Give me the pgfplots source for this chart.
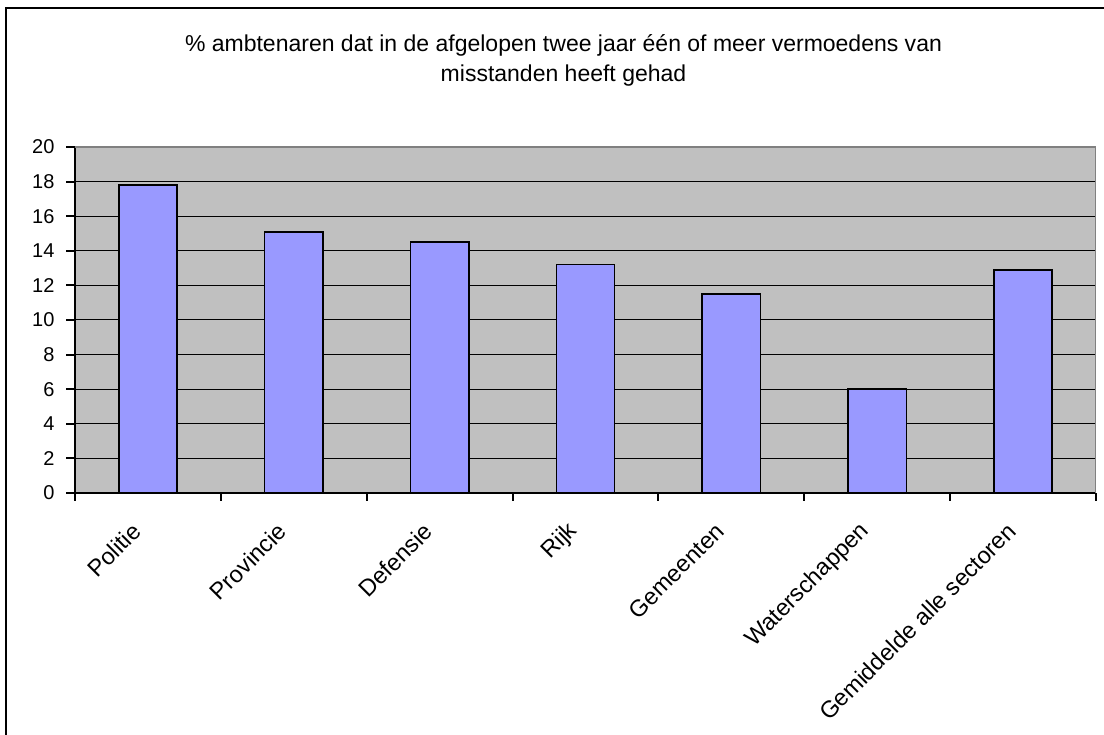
\documentclass[border=0pt]{standalone}
\usepackage{pgfplots}
\pgfplotsset{compat=1.18}
\usepackage{fontspec}
\setmainfont{Liberation Sans}
\definecolor{barblue}{RGB}{153,153,255}
\definecolor{plotgray}{RGB}{192,192,192}
\definecolor{edgegray}{RGB}{128,128,128}

\begin{document}
\begin{tikzpicture}
\useasboundingbox (0,0) rectangle (1104bp,735bp);
% chart frame (runs off the right and bottom edge)
\draw[line width=2.5bp] (6bp,-30bp) -- (6bp,727bp) -- (1140bp,727bp);
% title
\node[align=center, font=\fontsize{23bp}{30bp}\selectfont] at (563.5bp,675bp)
  {\% ambtenaren dat in de afgelopen twee jaar één of meer vermoedens van\\misstanden heeft gehad};
\begin{axis}[
  at={(75bp,242bp)}, anchor=south west,
  scale only axis, width=1021bp, height=346bp,
  xmin=-0.5, xmax=6.5, ymin=0, ymax=20,
  axis lines=left,
  axis line style={-, black, line width=2bp},
  axis background/.style={fill=plotgray},
  ytick={0,2,...,20},
  ymajorgrids, major grid style={black, line width=1bp},
  tick align=outside,
  major tick length=9bp, minor tick length=8bp,
  ytick style={black, line width=2bp},
  xtick={0,...,6},
  xticklabels={Politie, Provincie, Defensie, Rijk, Gemeenten, Waterschappen, Gemiddelde alle sectoren},
  major x tick style={draw=none},
  minor xtick={-0.5,0.5,...,6.5},
  minor x tick style={black, line width=2bp},
  /pgf/number format/assume math mode=true,
  yticklabel style={font=\fontsize{20bp}{24bp}\selectfont, xshift=-8bp},
  % shifts act in the rotated frame of the label
  xticklabel style={font=\fontsize{23.5bp}{28bp}\selectfont, rotate=45, anchor=east,
    xshift=-22.6bp, yshift=-9.9bp},
  ybar, bar width=0.4,
]
\addplot[fill=barblue, draw=black, line width=1.5bp] coordinates {
  (0,17.8) (1,15.1) (2,14.5) (3,13.2) (4,11.5) (5,6.0) (6,12.9)
};
\draw[edgegray, line width=2bp] (rel axis cs:0,1) -- (rel axis cs:1,1) -- (rel axis cs:1,0);
\end{axis}
\end{tikzpicture}
\end{document}
